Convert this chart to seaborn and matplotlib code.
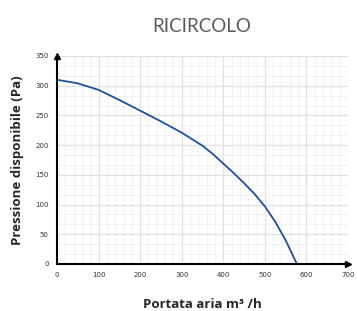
import matplotlib
matplotlib.use("Agg")
import matplotlib.pyplot as plt
import seaborn as sns
import pandas as pd
from matplotlib.ticker import MultipleLocator, AutoMinorLocator

# curve
portata = [0, 50, 100, 150, 200, 250, 300, 350, 375, 400, 425, 450, 475, 500, 525, 550, 577]
pressione = [310, 304, 293, 276, 258, 240, 221, 199, 185, 169, 153, 136, 118, 97, 71, 40, 0]

x_ticks = [0, 100, 200, 300, 400, 500, 600, 700]
y_ticks = [0, 50, 100, 150, 200, 250, 300, 350]

df = pd.DataFrame({"portata": portata, "pressione": pressione})

sns.set_style("white")
fig = plt.figure(figsize=(3.57, 3.11), dpi=100)
ax = fig.add_axes([57 / 357, 1 - 264 / 311, (348 - 57) / 357, (264 - 56) / 311])

sns.lineplot(data=df, x="portata", y="pressione", ax=ax, color="#1f4f9e", linewidth=1.3)

ax.set_xlim(0, 700)
ax.set_ylim(0, 350)
ax.set_xticks(x_ticks)
ax.set_yticks(y_ticks)
ax.xaxis.set_minor_locator(MultipleLocator(20))
ax.yaxis.set_minor_locator(AutoMinorLocator(3))
ax.grid(which="major", color="#e0e0e0", linewidth=0.9)
ax.grid(which="minor", color="#efefef", linewidth=0.6)
ax.set_axisbelow(True)

ax.tick_params(which="both", length=0, labelsize=5, colors="#333333", pad=6)
for s in ["top", "right"]:
    ax.spines[s].set_visible(False)
for s in ["left", "bottom"]:
    ax.spines[s].set_color("black")
    ax.spines[s].set_linewidth(1.5)

# arrow heads at the ends of the axes
ax.plot(1, 0, ">k", transform=ax.transAxes, clip_on=False, markersize=4)
ax.plot(0, 1, "^k", transform=ax.transAxes, clip_on=False, markersize=4)

ax.set_xlabel("Portata aria m³ /h", fontsize=9.5, fontweight="bold",
              family=["Open Sans", "DejaVu Sans"], labelpad=14)
ax.set_ylabel("Pressione disponibile (Pa)", fontsize=9.5, fontweight="bold",
              family=["Open Sans", "DejaVu Sans"], labelpad=8)

fig.text(202 / 357, 1 - 27 / 311, "RICIRCOLO", ha="center", va="center",
         fontsize=13.5, color="#5a5a5a", family=["Lato", "DejaVu Sans"])

fig.savefig("out.png", dpi=100)
